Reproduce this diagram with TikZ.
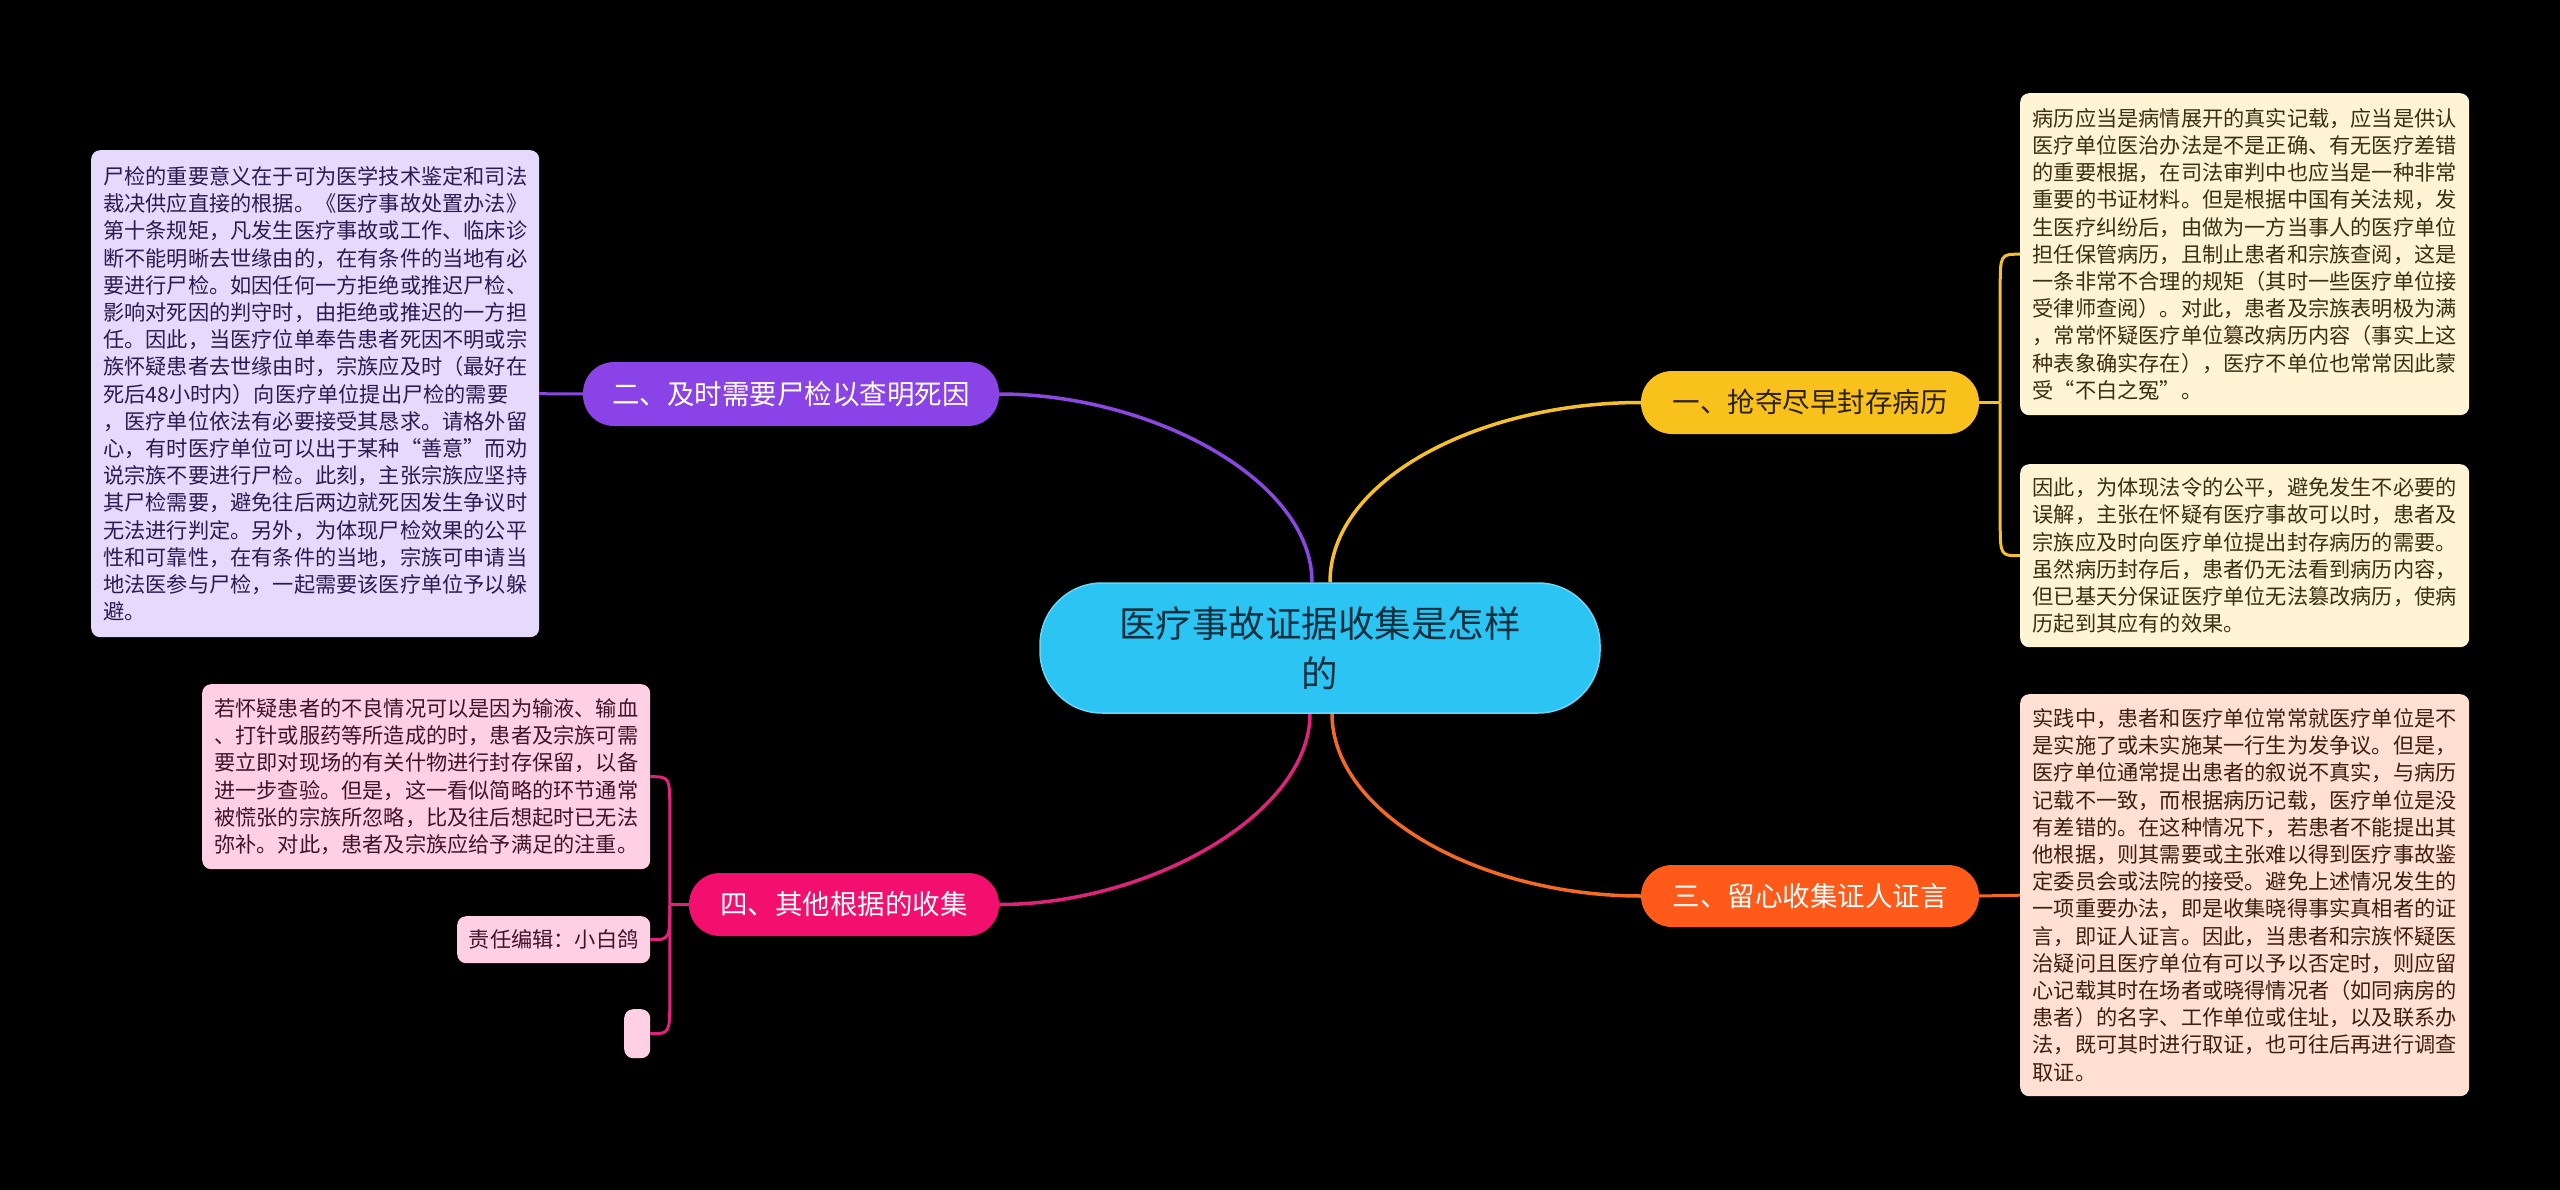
\documentclass[tikz,border=0pt]{standalone}
\usepackage{fontspec}
\setmainfont{Noto Sans CJK SC}
\usetikzlibrary{calc}
\pgfdeclarelayer{bg}
\pgfdeclarelayer{edges}
\pgfsetlayers{bg,edges,main}
\definecolor{rootfill}{HTML}{2BC4F3}
\definecolor{rootline}{HTML}{6AD6F7}
\definecolor{roottext}{HTML}{10303F}
\definecolor{yelfill}{HTML}{F9C11B}
\definecolor{yeltext}{HTML}{2B2100}
\definecolor{purfill}{HTML}{8A43E6}
\definecolor{orafill}{HTML}{FF5A1A}
\definecolor{pinfill}{HTML}{F20F6E}
\definecolor{yelline}{HTML}{F5C02A}
\definecolor{purline}{HTML}{8B48E0}
\definecolor{oraline}{HTML}{F26A24}
\definecolor{pinline}{HTML}{E0237A}
\definecolor{creamfill}{HTML}{FFF4D4}
\definecolor{creamtext}{HTML}{3B2F12}
\definecolor{lavfill}{HTML}{E5DAFB}
\definecolor{lavtext}{HTML}{2C1A52}
\definecolor{peachfill}{HTML}{FFE0D3}
\definecolor{peachtext}{HTML}{3D1F12}
\definecolor{pinkfill}{HTML}{FFD0E4}
\definecolor{pinktext}{HTML}{42122A}
\tikzset{
  leafbox/.style={rounded corners=9pt, align=left, inner sep=0pt, anchor=north west,
    font=\fontsize{21.2pt}{27.2pt}\selectfont},
  branchbox/.style={rounded corners=31pt, inner sep=0pt, align=center,
    font=\fontsize{27.5pt}{33pt}\selectfont},
  link/.style={line width=3.5pt},
  sublink/.style={line width=3pt},
}
\begin{document}
\begin{tikzpicture}[x=1pt,y=-1pt]
\useasboundingbox (0,0) rectangle (2560,1190);
\begin{pgfonlayer}{bg}
\fill[black] (0,0) rectangle (2560,1190);
\end{pgfonlayer}

% root
\node[fill=rootfill, draw=rootline, line width=1.5pt, rounded corners=62pt,
  minimum width=560pt, minimum height=130pt, align=center, text=roottext,
  font=\fontsize{36.5pt}{50pt}\selectfont] (root) at (1320,648)
  {医疗事故证据收集是怎样\\的};

% branches
\node[branchbox, fill=yelfill, text=yeltext, minimum width=338pt, minimum height=63pt]
  (b1) at (1810,402.5) {一、抢夺尽早封存病历};
\node[branchbox, fill=purfill, text=white, minimum width=416pt, minimum height=64pt]
  (b2) at (791,394) {二、及时需要尸检以查明死因};
\node[branchbox, fill=orafill, text=white, minimum width=338pt, minimum height=62pt]
  (b3) at (1810,896) {三、留心收集证人证言};
\node[branchbox, fill=pinfill, text=white, minimum width=310pt, minimum height=63pt]
  (b4) at (844,904.5) {四、其他根据的收集};

% leaves
\node[leafbox, fill=creamfill, text=creamtext, minimum width=449pt, minimum height=322pt]
  (l1a) at (2020,93) {病历应当是病情展开的真实记载，应当是供认\\
医疗单位医治办法是不是正确、有无医疗差错\\
的重要根据，在司法审判中也应当是一种非常\\
重要的书证材料。但是根据中国有关法规，发\\
生医疗纠纷后，由做为一方当事人的医疗单位\\
担任保管病历，且制止患者和宗族查阅，这是\\
一条非常不合理的规矩（其时一些医疗单位接\\
受律师查阅）。对此，患者及宗族表明极为满\\
，常常怀疑医疗单位篡改病历内容（事实上这\\
种表象确实存在），医疗不单位也常常因此蒙\\
受“不白之冤”。};

\node[leafbox, fill=creamfill, text=creamtext, minimum width=449pt, minimum height=183pt]
  (l1b) at (2020,464) {因此，为体现法令的公平，避免发生不必要的\\
误解，主张在怀疑有医疗事故可以时，患者及\\
宗族应及时向医疗单位提出封存病历的需要。\\
虽然病历封存后，患者仍无法看到病历内容，\\
但已基天分保证医疗单位无法篡改病历，使病\\
历起到其应有的效果。};

\node[leafbox, fill=peachfill, text=peachtext, minimum width=449pt, minimum height=402pt]
  (l3) at (2020,694) {实践中，患者和医疗单位常常就医疗单位是不\\
是实施了或未实施某一行生为发争议。但是，\\
医疗单位通常提出患者的叙说不真实，与病历\\
记载不一致，而根据病历记载，医疗单位是没\\
有差错的。在这种情况下，若患者不能提出其\\
他根据，则其需要或主张难以得到医疗事故鉴\\
定委员会或法院的接受。避免上述情况发生的\\
一项重要办法，即是收集晓得事实真相者的证\\
言，即证人证言。因此，当患者和宗族怀疑医\\
治疑问且医疗单位有可以予以否定时，则应留\\
心记载其时在场者或晓得情况者（如同病房的\\
患者）的名字、工作单位或住址，以及联系办\\
法，既可其时进行取证，也可往后再进行调查\\
取证。};

\node[leafbox, fill=lavfill, text=lavtext, minimum width=448pt, minimum height=487pt]
  (l2) at (91,150) {尸检的重要意义在于可为医学技术鉴定和司法\\
裁决供应直接的根据。《医疗事故处置办法》\\
第十条规矩，凡发生医疗事故或工作、临床诊\\
断不能明晰去世缘由的，在有条件的当地有必\\
要进行尸检。如因任何一方拒绝或推迟尸检、\\
影响对死因的判守时，由拒绝或推迟的一方担\\
任。因此，当医疗位单奉告患者死因不明或宗\\
族怀疑患者去世缘由时，宗族应及时（最好在\\
死后48小时内）向医疗单位提出尸检的需要\\
，医疗单位依法有必要接受其恳求。请格外留\\
心，有时医疗单位可以出于某种“善意”而劝\\
说宗族不要进行尸检。此刻，主张宗族应坚持\\
其尸检需要，避免往后两边就死因发生争议时\\
无法进行判定。另外，为体现尸检效果的公平\\
性和可靠性，在有条件的当地，宗族可申请当\\
地法医参与尸检，一起需要该医疗单位予以躲\\
避。};

\node[leafbox, fill=pinkfill, text=pinktext, minimum width=448pt, minimum height=185pt]
  (l4a) at (202,684) {若怀疑患者的不良情况可以是因为输液、输血\\
、打针或服药等所造成的时，患者及宗族可需\\
要立即对现场的有关什物进行封存保留，以备\\
进一步查验。但是，这一看似简略的环节通常\\
被慌张的宗族所忽略，比及往后想起时已无法\\
弥补。对此，患者及宗族应给予满足的注重。};

\node[leafbox, fill=pinkfill, text=pinktext, minimum width=193pt, minimum height=47pt]
  (l4b) at (457,916) {责任编辑：小白鸽};

\node[leafbox, fill=pinkfill, minimum width=26pt, minimum height=49pt]
  (l4c) at (624,1009) {};

% connectors
\begin{pgfonlayer}{edges}
\draw[link, yelline] ($(root.north)+(10,0)$) .. controls +(0,-103) and +(-161,0) .. (b1.west);
\draw[link, purline] ($(root.north)+(-8,0)$) .. controls +(0,-103) and +(151,0) .. (b2.east);
\draw[link, oraline] ($(root.south)+(12,0)$) .. controls +(0,100) and +(-160,0) .. (b3.west);
\draw[link, pinline] ($(root.south)+(-10,0)$) .. controls +(0,100) and +(150,0) .. (b4.east);

% branch 1 bracket
\draw[sublink, yelline] (b1.east) -- ++(21,0) coordinate (j1);
\draw[sublink, yelline] (j1) -- ($(j1|-l1a.west)+(0,35)$) .. controls (j1|-l1a.west) .. (l1a.west);
\draw[sublink, yelline] (j1) -- ($(j1|-l1b.west)+(0,-35)$) .. controls (j1|-l1b.west) .. (l1b.west);

% branch 2
\draw[sublink, purline] (b2.west) -- (l2.east);

% branch 3
\draw[sublink, oraline] (b3.east) -- (l3.west);

% branch 4 bracket
\draw[sublink, pinline] (b4.west) -- ++(-19,0) coordinate (j4);
\draw[sublink, pinline] (j4) -- ($(j4|-l4a.east)+(0,35)$) .. controls (j4|-l4a.east) .. (l4a.east);
\draw[sublink, pinline] (j4) .. controls (j4|-l4b.east) .. (l4b.east);
\draw[sublink, pinline] (j4) -- ($(j4|-l4c.east)+(0,-35)$) .. controls (j4|-l4c.east) .. (l4c.east);
\end{pgfonlayer}
\end{tikzpicture}
\end{document}
